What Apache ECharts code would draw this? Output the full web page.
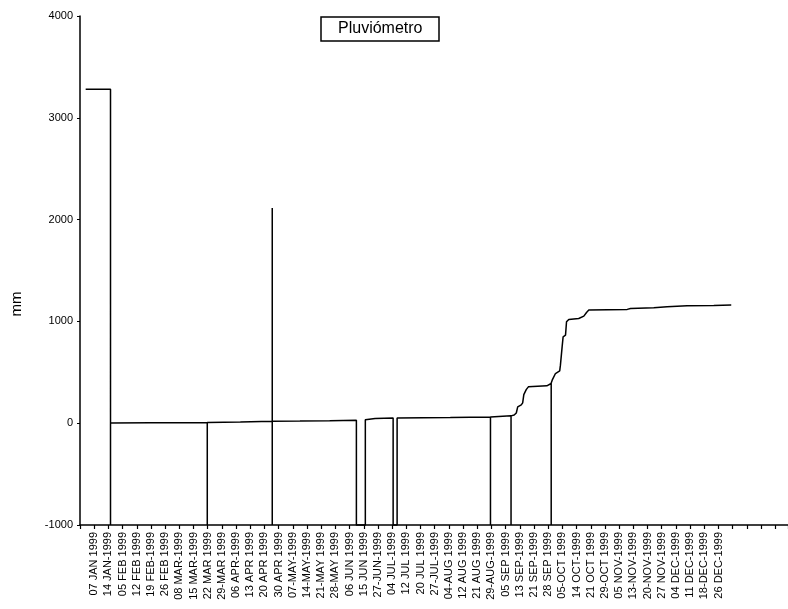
<!DOCTYPE html>
<html>
<head>
<meta charset="utf-8">
<script src="https://cdn.jsdelivr.net/npm/echarts@6/dist/echarts.min.js"></script>
<style>html,body{margin:0;padding:0;background:#fff}#c{width:788px;height:609px}</style>
</head>
<body>
<div id="c"></div>
<script>
// Tick labels of the category axis (one per tick, index 0..44)
const tickLabels = [
  '07 JAN 1999','14 JAN-1999','05 FEB 1999','12 FEB 1999','19 FEB-1999','26 FEB 1999',
  '08 MAR-1999','15 MAR-1999','22 MAR 1999','29-MAR 1999','06 APR-1999','13 APR 1999',
  '20 APR 1999','30 APR 1999','07-MAY-1999','14-MAY-1999','21-MAY 1999','28-MAY 1999',
  '06 JUN 1999','15 JUN 1999','27-JUN-1999','04 JUL-1999','12 JUL 1999','20 JUL 1999',
  '27-JUL-1999','04-AUG 1999','12 AUG 1999','21 AUG 1999','29-AUG-1999','05 SEP 1999',
  '13 SEP-1999','21 SEP-1999','28 SEP 1999','05-OCT 1999','14 OCT-1999','21 OCT 1999',
  '29-OCT 1999','05 NOV-1999','13-NOV-1999','20-NOV-1999','27 NOV-1999','04 DEC-1999',
  '11 DEC-1999','18-DEC-1999','26 DEC-1999'
];
// Sample positions, in tick-index units along the x axis
const sampleX = [
  -0.6, 1.15, 1.15, 1.15,
  4.0, 7.97, 7.97, 7.97,
  10.3, 12.55, 12.55, 12.55, 12.55,
  14.5, 16.6, 18.48, 18.48, 19.11, 19.11,
  19.8, 21.07, 21.07, 21.35, 21.35,
  25.1, 27.93, 27.93, 27.93,
  29.38, 29.38, 29.38,
  29.6, 29.75, 29.85, 30.1, 30.2, 30.28, 30.45, 30.6, 31.9,
  32.21, 32.21, 32.21,
  32.28, 32.51, 32.81, 32.86, 32.98, 33.05, 33.22, 33.29, 33.45,
  34.15, 34.51, 34.7, 34.86, 37.57, 37.8, 39.44, 40.38, 41.79, 43.67, 44.9
];
// Rainfall values (mm); -1000 marks missing readings
const sampleMm = [
  3280, 3280, -1000, 3,
  5, 8, -1000, 8,
  12, 18, 2113, -1000, 20,
  22, 25, 30, -1000, -1000, 33,
  46, 50, -1000, -1000, 50,
  55, 62, -1000, 62,
  72, -1000, 72,
  80, 100, 160, 180, 200, 280, 330, 357, 367,
  390, -1000, 395,
  423, 488, 514, 570, 750, 848, 865, 996, 1019,
  1029, 1052, 1088, 1111, 1118, 1127, 1133, 1143, 1153, 1157, 1162
];
const yMin = -1000, yMax = 4000, yStep = 1000;

const chart = echarts.init(document.getElementById('c'), null, {renderer: 'canvas'});
chart.setOption({
  animation: false,
  backgroundColor: '#fff',
  textStyle: {fontFamily: 'Liberation Sans', color: '#000'},
  title: {
    text: 'Pluviómetro',
    left: 321, top: 17,
    borderColor: '#000', borderWidth: 1.5,
    padding: [4, 17, 4, 17],
    textStyle: {fontSize: 16, fontWeight: 'normal', color: '#000', fontFamily: 'Liberation Sans'}
  },
  graphic: [{
    type: 'text', x: 17, y: 304, rotation: Math.PI / 2,
    style: {text: 'mm', fontSize: 15, fontFamily: 'Liberation Sans', fill: '#000',
            align: 'center', verticalAlign: 'middle'}
  }],
  grid: {left: 80, right: 0, top: 16, bottom: 84, containLabel: false},
  xAxis: {
    type: 'value', min: -1, max: 48.9, interval: 1,
    axisLine: {show: true, onZero: false, lineStyle: {color: '#000', width: 1.5}},
    axisTick: {show: true, length: 4, lineStyle: {color: '#000', width: 1.2}},
    splitLine: {show: false},
    axisLabel: {
      rotate: 90, fontSize: 11, color: '#000', margin: 7,
      fontFamily: 'Liberation Sans',
      formatter: v => { const i = Math.round(v); return (Math.abs(v - i) < 1e-6 && tickLabels[i]) ? tickLabels[i] : ''; }
    }
  },
  yAxis: {
    type: 'value', min: yMin, max: yMax, interval: yStep,
    axisLine: {show: true, onZero: false, lineStyle: {color: '#000', width: 1.5}},
    axisTick: {show: true, length: 3, lineStyle: {color: '#000'}},
    splitLine: {show: false},
    axisLabel: {fontSize: 11, color: '#000', margin: 7, fontFamily: 'Liberation Sans',
                formatter: v => String(v)}
  },
  series: [{
    type: 'line',
    data: sampleX.map((x, i) => [x, sampleMm[i]]),
    symbol: 'none',
    lineStyle: {color: '#000', width: 1.5},
    clip: false
  }]
});
</script>
</body>
</html>
